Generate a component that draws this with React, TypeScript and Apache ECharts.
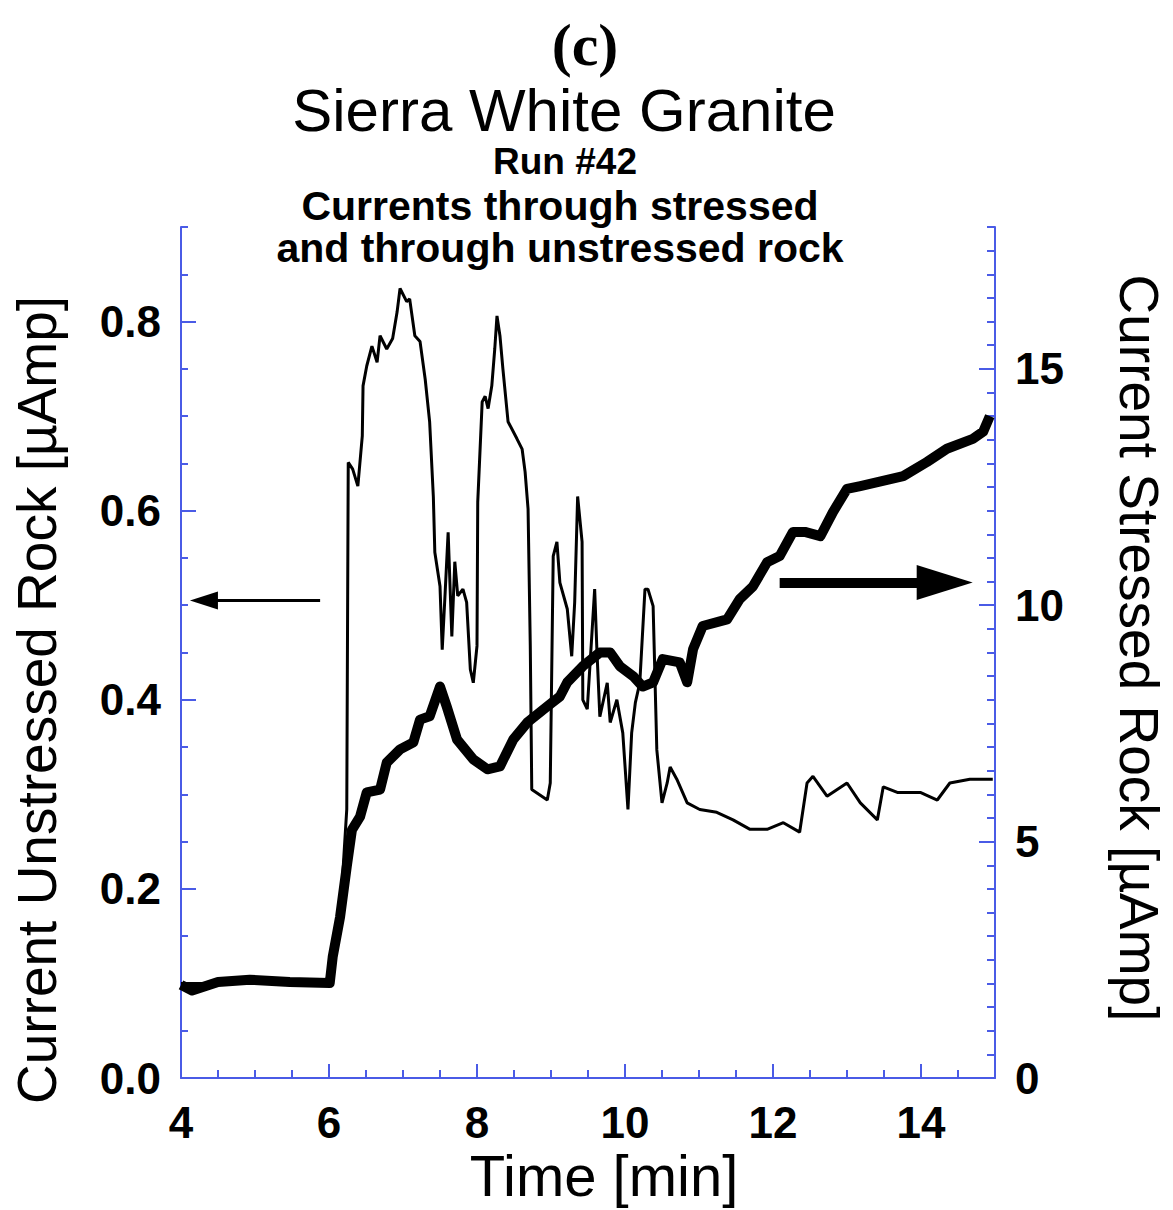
import React, { useEffect, useRef } from "react";
import * as echarts from "echarts";

// ---- Data ----
// Current through unstressed rock [µAmp] (left axis), time in minutes
const unstressedTime = [
  4.0, 4.5, 5.0, 5.5, 6.01, 6.15, 6.24, 6.26, 6.32, 6.39, 6.45, 6.46, 6.51, 6.58, 6.65, 6.69, 6.78, 6.86,
  6.92, 6.96, 7.05, 7.09, 7.16, 7.23, 7.3, 7.36, 7.41, 7.43, 7.5, 7.53, 7.57, 7.61, 7.66, 7.7, 7.74, 7.81,
  7.86, 7.91, 7.95, 8.0, 8.01, 8.07, 8.11, 8.15, 8.2, 8.24, 8.27, 8.31, 8.35, 8.42, 8.54, 8.61, 8.65, 8.69,
  8.72, 8.74, 8.95, 8.99, 9.03, 9.08, 9.12, 9.22, 9.28, 9.32, 9.36, 9.42, 9.43, 9.49, 9.59, 9.62, 9.66, 9.76,
  9.8, 9.89, 9.97, 10.04, 10.09, 10.14, 10.2, 10.27, 10.31, 10.38, 10.43, 10.5, 10.57, 10.61, 10.7, 10.84,
  11.01, 11.24, 11.46, 11.69, 11.92, 12.14, 12.36, 12.46, 12.54, 12.73, 13.0, 13.18, 13.41, 13.49, 13.68,
  13.99, 14.22, 14.39, 14.66, 14.97,
];
const unstressedCurrent = [
  0.1, 0.1, 0.1, 0.1, 0.1, 0.17, 0.284, 0.651, 0.644, 0.626, 0.679, 0.732, 0.753, 0.774, 0.757, 0.785, 0.771, 0.782,
  0.81, 0.835, 0.821, 0.824, 0.785, 0.779, 0.739, 0.694, 0.615, 0.556, 0.52, 0.453, 0.514, 0.577, 0.467, 0.546, 0.51, 0.517,
  0.503, 0.432, 0.418, 0.457, 0.609, 0.715, 0.721, 0.708, 0.732, 0.771, 0.806, 0.785, 0.75, 0.694, 0.676, 0.665, 0.641, 0.602,
  0.457, 0.305, 0.294, 0.312, 0.552, 0.567, 0.524, 0.496, 0.446, 0.503, 0.615, 0.567, 0.4, 0.39, 0.517, 0.453, 0.382, 0.418,
  0.376, 0.4, 0.365, 0.284, 0.365, 0.397, 0.418, 0.517, 0.517, 0.499, 0.347, 0.291, 0.312, 0.329, 0.316, 0.291,
  0.284, 0.281, 0.273, 0.263, 0.263, 0.27, 0.26, 0.312, 0.319, 0.298, 0.312, 0.291, 0.273, 0.308, 0.302,
  0.302, 0.294, 0.312, 0.316, 0.316,
];

// Current through stressed rock [µAmp] (right axis)
const stressedTime = [
  4.0, 4.15, 4.5, 4.93, 5.47, 6.01, 6.05, 6.15, 6.24, 6.31, 6.42, 6.51, 6.69, 6.78, 6.96, 7.14, 7.23, 7.36, 7.5,
  7.59, 7.73, 7.95, 8.14, 8.31, 8.49, 8.68, 8.95, 9.12, 9.22, 9.43, 9.66, 9.8, 9.93, 10.11, 10.24, 10.38, 10.51,
  10.74, 10.84, 10.92, 11.05, 11.38, 11.55, 11.73, 11.92, 12.09, 12.27, 12.43, 12.64, 12.81, 13.0, 13.18, 13.76,
  14.08, 14.35, 14.7, 14.84, 14.93,
];
const stressedCurrent = [
  1.97, 1.85, 2.03, 2.08, 2.03, 2.01, 2.56, 3.41, 4.47, 5.25, 5.53, 6.04, 6.1, 6.67, 6.95, 7.1, 7.58, 7.65, 8.28,
  7.86, 7.16, 6.74, 6.53, 6.59, 7.16, 7.52, 7.86, 8.07, 8.37, 8.71, 9.0, 9.0, 8.71, 8.5, 8.28, 8.37, 8.86,
  8.79, 8.37, 9.07, 9.56, 9.7, 10.13, 10.4, 10.91, 11.04, 11.55, 11.55, 11.46, 11.97, 12.46, 12.52, 12.73,
  13.03, 13.31, 13.52, 13.67, 14.0,
];

// Axes
const xRange = [4, 15];
const xMajorTicks = [4, 6, 8, 10, 12, 14];
const leftRange = [0, 0.9];
const leftMajorTicks = [0, 0.2, 0.4, 0.6, 0.8];
const rightRange = [0, 18];
const rightMajorTicks = [0, 5, 10, 15];

// Arrow annotations (data coordinates)
const leftArrowStart = [5.88, 0.505];
const leftArrowEnd = [4.31, 0.505];
const rightArrowStart = [12.09, 10.48];
const rightArrowEnd = [14.32, 10.48];

// Texts
const titleLines = ["(c)", "Sierra White Granite", "Run #42", "Currents through stressed", "and through unstressed rock"];
const xAxisTitle = "Time [min]";
const leftAxisTitle = "Current Unstressed Rock [µAmp]";
const rightAxisTitle = "Current Stressed Rock [µAmp]";

const BLUE = "#4a5be6";
const SANS = '"Liberation Sans", Arial, Helvetica, sans-serif';

function zip(xs: number[], ys: number[]) {
  return xs.map((x, i) => [x, ys[i]]);
}

export default function App() {
  const ref = useRef<HTMLDivElement>(null);

  useEffect(() => {
    if (!ref.current) return;
    const chart = echarts.init(ref.current, null, { renderer: "svg" });

    const majorLabel = {
      color: "#000",
      fontFamily: SANS,
      fontWeight: "bold" as const,
      fontSize: 44,
    };

    const option: any = {
      animation: false,
      backgroundColor: "#fff",
      grid: { left: 181, right: 178, top: 227, bottom: 132 },
      graphic: [
        {
          type: "text",
          x: 585,
          y: 45,
          style: {
            text: titleLines[0],
            font: 'bold 60px "Liberation Serif", "Times New Roman", serif',
            fill: "#000",
            align: "center",
            verticalAlign: "middle",
          },
        },
        {
          type: "text",
          x: 564,
          y: 110,
          style: { text: titleLines[1], font: `60px ${SANS}`, fill: "#000", align: "center", verticalAlign: "middle" },
        },
        {
          type: "text",
          x: 565,
          y: 161,
          style: { text: titleLines[2], font: `bold 37px ${SANS}`, fill: "#000", align: "center", verticalAlign: "middle" },
        },
        {
          type: "text",
          x: 560,
          y: 227,
          style: {
            text: titleLines[3] + "\n" + titleLines[4],
            font: `bold 41px ${SANS}`,
            lineHeight: 42,
            fill: "#000",
            align: "center",
            verticalAlign: "middle",
          },
        },
        {
          type: "text",
          x: 604,
          y: 1175,
          style: { text: xAxisTitle, font: `58px ${SANS}`, fill: "#000", align: "center", verticalAlign: "middle" },
        },
        {
          type: "text",
          x: 37,
          y: 700,
          rotation: Math.PI / 2,
          style: { text: leftAxisTitle, font: `55px ${SANS}`, fill: "#000", align: "center", verticalAlign: "middle" },
        },
        {
          type: "text",
          x: 1139,
          y: 648,
          rotation: -Math.PI / 2,
          style: { text: rightAxisTitle, font: `55px ${SANS}`, fill: "#000", align: "center", verticalAlign: "middle" },
        },
      ],
      xAxis: [
        {
          type: "value",
          min: xRange[0],
          max: xRange[1],
          interval: 2,
          position: "bottom",
          axisLine: { show: true, lineStyle: { color: BLUE, width: 2 } },
          axisTick: { show: true, inside: true, length: 14, customValues: xMajorTicks, lineStyle: { color: BLUE, width: 2 } },
          axisLabel: { ...majorLabel, customValues: xMajorTicks, margin: 22 },
          splitLine: { show: false },
        },
        {
          type: "value",
          min: xRange[0],
          max: xRange[1],
          interval: 0.5,
          position: "bottom",
          axisLine: { show: false },
          axisTick: { show: true, inside: true, length: 8, lineStyle: { color: BLUE, width: 2 } },
          axisLabel: { show: false },
          splitLine: { show: false },
        },
      ],
      yAxis: [
        {
          type: "value",
          min: leftRange[0],
          max: leftRange[1],
          interval: 0.2,
          position: "left",
          axisLine: { show: true, lineStyle: { color: BLUE, width: 2 } },
          axisTick: { show: true, inside: true, length: 15, customValues: leftMajorTicks, lineStyle: { color: BLUE, width: 2 } },
          axisLabel: {
            ...majorLabel,
            customValues: leftMajorTicks,
            margin: 20,
            formatter: (v: number) => v.toFixed(1),
          },
          splitLine: { show: false },
        },
        {
          type: "value",
          min: rightRange[0],
          max: rightRange[1],
          interval: 5,
          position: "right",
          axisLine: { show: true, lineStyle: { color: BLUE, width: 2 } },
          axisTick: { show: true, inside: true, length: 16, customValues: rightMajorTicks, lineStyle: { color: BLUE, width: 2 } },
          axisLabel: { ...majorLabel, customValues: rightMajorTicks, margin: 20 },
          splitLine: { show: false },
        },
        {
          type: "value",
          min: leftRange[0],
          max: leftRange[1],
          interval: 0.05,
          position: "left",
          axisLine: { show: false },
          axisTick: { show: true, inside: true, length: 7, lineStyle: { color: BLUE, width: 2 } },
          axisLabel: { show: false },
          splitLine: { show: false },
        },
        {
          type: "value",
          min: rightRange[0],
          max: rightRange[1],
          interval: 0.5,
          position: "right",
          axisLine: { show: false },
          axisTick: { show: true, inside: true, length: 8, lineStyle: { color: BLUE, width: 2 } },
          axisLabel: { show: false },
          splitLine: { show: false },
        },
      ],
      series: [
        {
          type: "line",
          name: "Stressed rock",
          xAxisIndex: 0,
          yAxisIndex: 1,
          data: zip(stressedTime, stressedCurrent),
          symbol: "none",
          showSymbol: false,
          itemStyle: { color: "#000" },
          lineStyle: { color: "#000", width: 10, join: "round" },
          silent: true,
          markLine: {
            silent: true,
            animation: false,
            label: { show: false },
            lineStyle: { color: "#000", width: 10, type: "solid" },
            itemStyle: { color: "#000" },
            data: [
              [
                { coord: rightArrowStart, symbol: "none" },
                { coord: rightArrowEnd, symbol: "triangle", symbolSize: [35, 56] },
              ],
            ],
          },
        },
        {
          type: "line",
          name: "Unstressed rock",
          xAxisIndex: 0,
          yAxisIndex: 0,
          data: zip(unstressedTime, unstressedCurrent),
          symbol: "none",
          showSymbol: false,
          itemStyle: { color: "#000" },
          lineStyle: { color: "#000", width: 3 },
          silent: true,
          markLine: {
            silent: true,
            animation: false,
            label: { show: false },
            lineStyle: { color: "#000", width: 3, type: "solid" },
            itemStyle: { color: "#000" },
            data: [
              [
                { coord: leftArrowStart, symbol: "none" },
                { coord: leftArrowEnd, symbol: "triangle", symbolSize: [18, 28] },
              ],
            ],
          },
        },
      ],
    };

    chart.setOption(option);
    return () => chart.dispose();
  }, []);

  return (
    <div
      ref={ref}
      style={{ position: "absolute", left: 0, top: 0, width: 1173, height: 1210, background: "#fff" }}
    />
  );
}
